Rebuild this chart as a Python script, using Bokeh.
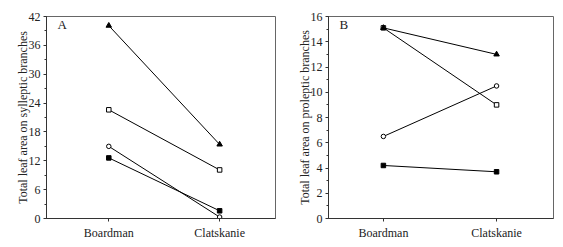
from bokeh.plotting import figure
from bokeh.layouts import row
from bokeh.models import FixedTicker, SingleIntervalTicker, Range1d, Label
from bokeh.embed import file_html
from bokeh.resources import INLINE

sites = ["Boardman", "Clatskanie"]
x_pos = [1, 2]

# Panel A: sylleptic branches
a_tri = [40.1, 15.4]
a_osq = [22.6, 10.1]
a_ocirc = [15.0, 0.3]
a_fsq = [12.6, 1.6]

# Panel B: proleptic branches
b_tri = [15.1, 13.0]
b_osq = [15.1, 9.0]
b_ocirc = [6.5, 10.5]
b_fsq = [4.2, 3.7]

FONT = "Liberation Serif"


def make_panel(title_letter, ylabel, ymax, yint, series, xr, wl, frame_w, wr):
    p = figure(width=wl + frame_w + wr, height=16 + 202 + 29,
               output_backend="svg", toolbar_location=None,
               x_range=Range1d(*xr), y_range=Range1d(0, ymax),
               min_border_left=wl, min_border_right=wr,
               min_border_top=16, min_border_bottom=29)
    p.grid.visible = False
    p.outline_line_color = "#666666"
    p.background_fill_color = "white"
    p.border_fill_color = "white"

    p.xaxis.ticker = FixedTicker(ticks=x_pos)
    p.xaxis.major_label_overrides = {1: sites[0], 2: sites[1]}
    p.yaxis.ticker = SingleIntervalTicker(interval=yint, num_minor_ticks=2)
    p.yaxis.axis_label = ylabel
    for ax in (p.xaxis, p.yaxis):
        ax.axis_line_color = "#333333"
        ax.major_tick_line_color = "#333333"
        ax.minor_tick_line_color = "#333333"
        ax.major_tick_in = 0
        ax.major_tick_out = 3
        ax.minor_tick_in = 0
        ax.minor_tick_out = 2
        ax.major_label_text_font = FONT
        ax.major_label_text_font_size = "12px"
        ax.major_label_text_color = "#222222"
        ax.axis_label_text_font = FONT
        ax.axis_label_text_font_size = "12px"
        ax.axis_label_text_font_style = "normal"
        ax.axis_label_text_color = "#222222"
    p.xaxis.minor_tick_line_color = None
    p.yaxis.axis_label_standoff = -4
    p.yaxis.major_label_standoff = 3
    p.xaxis.major_label_standoff = 4

    tri, osq, ocirc, fsq = series
    for ys in (tri, osq, ocirc, fsq):
        p.line(x_pos, ys, line_color="black", line_width=1)
    p.scatter(x_pos, osq, marker="square", size=4.5, fill_color="white",
              line_color="black", line_width=1)
    p.scatter(x_pos, ocirc, marker="circle", size=4.5, fill_color="white",
              line_color="black", line_width=1)
    p.scatter(x_pos, fsq, marker="square", size=4.5, fill_color="black",
              line_color="black")
    p.scatter(x_pos, tri, marker="triangle", size=5.5, fill_color="black",
              line_color="black")

    p.add_layout(Label(x=11, y=187, x_units="screen", y_units="screen",
                       text=title_letter, text_font=FONT,
                       text_font_size="13px", text_color="#222222"))
    return p


pa = make_panel("A", "Total leaf area on sylleptic branches", 42, 6,
                (a_tri, a_osq, a_ocirc, a_fsq), (0.438, 2.504), 46, 229, 5)
pb = make_panel("B", "Total leaf area on proleptic branches", 16, 2,
                (b_tri, b_osq, b_ocirc, b_fsq), (0.515, 2.503), 48, 225, 10)

layout = row(pa, pb, spacing=0)
open("out.html", "w").write(file_html(layout, INLINE))
